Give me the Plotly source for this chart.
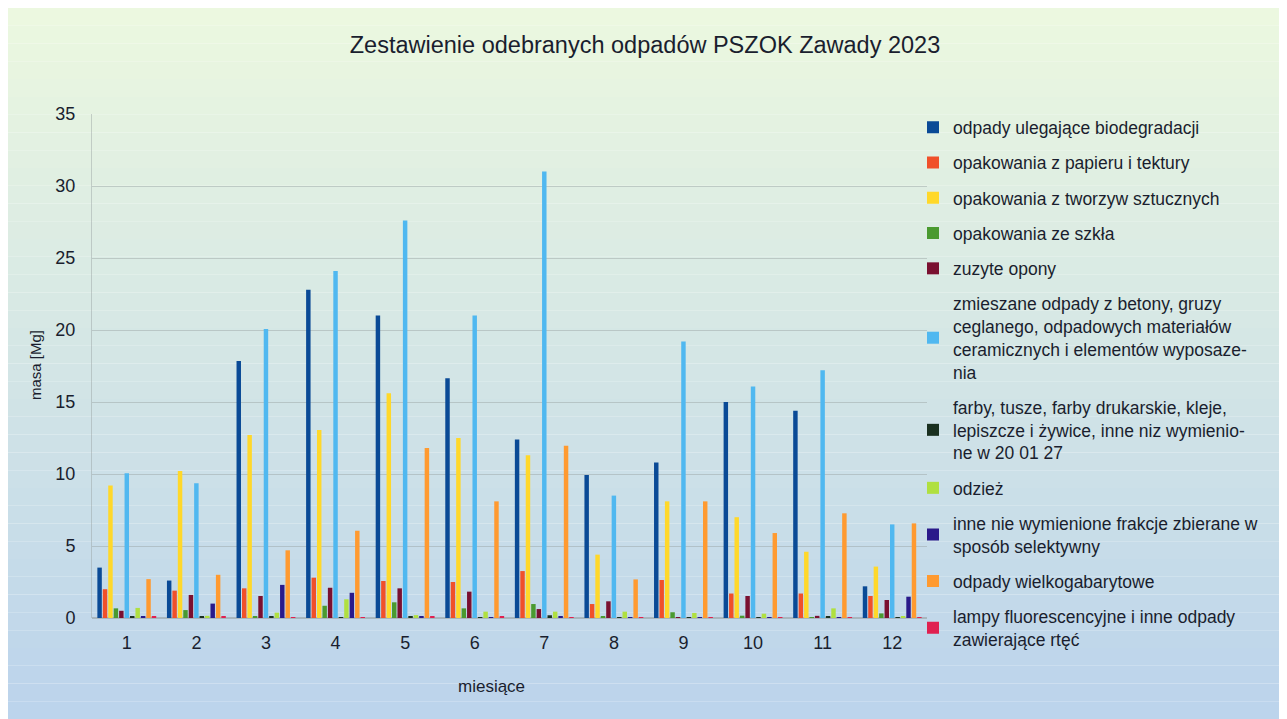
import plotly.graph_objects as go

months = ["1", "2", "3", "4", "5", "6", "7", "8", "9", "10", "11", "12"]

series_names = [
    "odpady ulegające biodegradacji",
    "opakowania z papieru i tektury",
    "opakowania z tworzyw sztucznych",
    "opakowania ze szkła",
    "zuzyte opony",
    "zmieszane odpady z betony, gruzy<br>ceglanego, odpadowych materiałów<br>ceramicznych i elementów wyposaze-<br>nia",
    "farby, tusze, farby drukarskie, kleje,<br>lepiszcze i żywice, inne niz wymienio-<br>ne w 20 01 27",
    "odzież",
    "inne nie wymienione frakcje zbierane w<br>sposób selektywny",
    "odpady wielkogabarytowe",
    "lampy fluorescencyjne i inne odpady<br>zawierające rtęć",
]

bio = [3.5, 2.6, 17.85, 22.8, 21.0, 16.65, 12.4, 9.93, 10.8, 15.0, 14.4, 2.2]
papier = [2.0, 1.9, 2.06, 2.8, 2.57, 2.5, 3.26, 0.97, 2.64, 1.7, 1.7, 1.53]
tworzywa = [9.2, 10.2, 12.7, 13.05, 15.6, 12.5, 11.3, 4.4, 8.1, 7.0, 4.6, 3.57]
szklo = [0.67, 0.55, 0.1, 0.85, 1.09, 0.67, 0.97, 0.1, 0.4, 0.16, 0.05, 0.32]
opony = [0.5, 1.6, 1.53, 2.1, 2.06, 1.83, 0.62, 1.16, 0.05, 1.53, 0.15, 1.25]
zmieszane = [10.05, 9.35, 20.07, 24.1, 27.6, 21.0, 31.0, 8.5, 19.2, 16.07, 17.2, 6.5]
farby = [0.1, 0.1, 0.1, 0.05, 0.1, 0.05, 0.19, 0.05, 0.05, 0.05, 0.1, 0.05]
odziez = [0.7, 0.15, 0.37, 1.3, 0.2, 0.44, 0.44, 0.44, 0.35, 0.3, 0.67, 0.1]
inne = [0.1, 1.0, 2.3, 1.75, 0.1, 0.02, 0.1, 0.05, 0.05, 0.05, 0.05, 1.48]
wielkogabarytowe = [2.7, 3.0, 4.7, 6.06, 11.8, 8.1, 11.97, 2.68, 8.1, 5.9, 7.27, 6.57]
lampy = [0.1, 0.1, 0.05, 0.05, 0.1, 0.1, 0.05, 0.02, 0.05, 0.05, 0.05, 0.05]

values = [bio, papier, tworzywa, szklo, opony, zmieszane, farby, odziez, inne, wielkogabarytowe, lampy]

colors = ["#0a4a96", "#f0502a", "#ffd82a", "#4a9a30", "#7a1030", "#50b8f0",
          "#1a3020", "#b0e040", "#2a1a8a", "#ff9a30", "#e02050"]

FONT = "Liberation Sans"
TXT = "#1a1e2e"

# figure is drawn with an 8px page offset; geometry below in figure pixels
W, H = 1279, 711
L, R, T, B = 84, 360, 106, 101
PW = W - L - R
PH = H - T - B

fig = go.Figure()
for i, (name, vals) in enumerate(zip(series_names, values)):
    fig.add_trace(go.Bar(x=months, y=vals, name=name, marker_color=colors[i],
                         marker_line_width=0, legendgroup=f"g{i}"))

# background gradient (scan look): top light green -> bottom light blue
shapes = []
n = 40
top = (236, 248, 224)
bot = (188, 212, 236)
y_top_paper = (H - B) / PH
y_bot_paper = -B / PH
for k in range(n):
    t = k / (n - 1)
    c = tuple(int(top[j] + (bot[j] - top[j]) * t) for j in range(3))
    y1 = y_top_paper + (y_bot_paper - y_top_paper) * k / n
    y0 = y_top_paper + (y_bot_paper - y_top_paper) * (k + 1) / n
    shapes.append(dict(type="rect", xref="paper", yref="paper",
                       x0=-L / PW, x1=(W - L) / PW, y0=y0, y1=y1,
                       fillcolor="rgb(%d,%d,%d)" % c, line_width=0, layer="below"))

fig.update_layout(
    width=W, height=H,
    margin=dict(l=L, r=R, t=T, b=B),
    paper_bgcolor="white",
    plot_bgcolor="rgba(0,0,0,0)",
    shapes=shapes,
    barmode="group",
    bargap=0.14,
    bargroupgap=0.18,
    font=dict(family=FONT, color=TXT),
    title=dict(text="Zestawienie odebranych odpadów PSZOK Zawady 2023",
               x=(645 - 8) / W, xanchor="center", y=1 - 37 / H, yanchor="middle",
               font=dict(size=23.5, family=FONT, color=TXT)),
    legend=dict(x=(905 - L) / PW, xanchor="left", y=1.009, yanchor="top",
                font=dict(size=17.5, family=FONT, color=TXT),
                tracegroupgap=9.5, bgcolor="rgba(0,0,0,0)", traceorder="grouped"),
    xaxis=dict(tickfont=dict(size=18, family=FONT, color=TXT), showgrid=False,
               showline=False, ticks="", ticklabelstandoff=12),
    yaxis=dict(range=[0, 35], dtick=5, tickfont=dict(size=18, family=FONT, color=TXT),
               showgrid=True, gridcolor="rgba(150,160,160,0.45)", gridwidth=1,
               zeroline=True, zerolinecolor="rgba(150,160,160,0.6)",
               showline=True, linecolor="rgba(150,160,160,0.45)", ticks="",
               ticklabelstandoff=12),
    annotations=[
        dict(text="masa [Mg]", xref="paper", yref="paper", x=(27 - L) / PW,
             y=(610 - 357) / PH, textangle=-90, showarrow=False,
             font=dict(size=15, family=FONT, color=TXT), xanchor="center", yanchor="middle"),
        dict(text="miesiące", xref="paper", yref="paper", x=(483 - L) / PW,
             y=(610 - 678) / PH, showarrow=False,
             font=dict(size=17, family=FONT, color=TXT), xanchor="center", yanchor="middle"),
    ],
)
try:
    fig.update_layout(legend_maxheight=700)
except Exception:
    pass

fig.write_html("out.html")
